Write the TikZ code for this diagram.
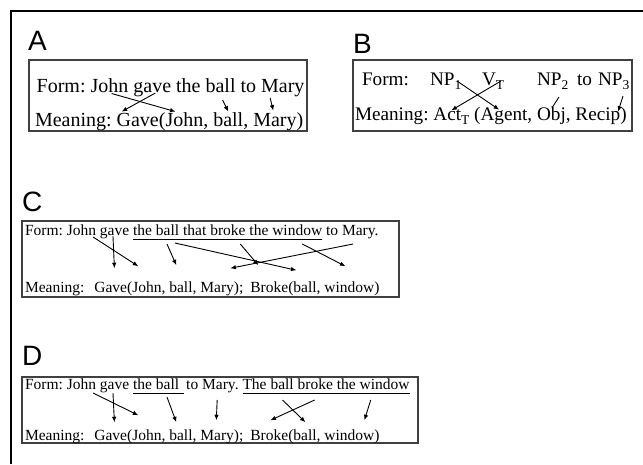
\documentclass[tikz,border=0pt]{standalone}
\usepackage{fontspec}
\setmainfont{Liberation Serif}
\setsansfont{Liberation Sans}
\usepackage{tikz}
\usetikzlibrary{arrows.meta, positioning}

\newcommand{\lowsub}[1]{\raisebox{-4.5pt}{\fontsize{13.5}{14}\selectfont #1}}

\tikzset{
  wd/.style={inner sep=0pt, outer sep=0pt, anchor=base west},
  wdbig/.style={wd, font=\fontsize{20}{24}\selectfont},
  wdmid/.style={wd, font=\fontsize{19.2}{23}\selectfont},
  wdsmall/.style={wd, font=\fontsize{15.5}{18}\selectfont},
  lbl/.style={inner sep=0pt, anchor=base west, font=\sffamily\fontsize{28}{32}\selectfont},
  panel/.style={draw=black!75, line width=1.1pt},
  arr/.style={-{Latex[length=5.5pt,width=4.5pt]}, line width=0.9pt},
  uline/.style={line width=0.8pt}
}

\begin{document}
\begin{tikzpicture}[x=1pt, y=-1pt]
        \useasboundingbox (0,0) rectangle (643,464);
        \draw [line width=2pt] (11,464) -- (11,11) -- (643,11);

        % A
        \node [lbl] (labA) at (28,50) {A};
        \draw [panel] (29,60) rectangle (307,131);
        \node [wdbig] (aF0) at (36.7,92) {Form:};
        \foreach \n/\t [remember=\n as \p (initially aF0)] in {aF1/John, aF2/gave, aF3/the, aF4/ball, aF5/to, aF6/Mary}
          \node [wdbig, base right=5pt of \p] (\n) {\t};
        \node [wdbig] (aM0) at (35,126.5) {Meaning:};
        \foreach \n/\t/\g [remember=\n as \p (initially aM0)] in {aM1/{Gave(}/5pt, aM2/{John,}/0pt, aM3/{ball,}/5pt, aM4/{Mary)}/5pt}
          \node [wdbig, base right=\g of \p] (\n) {\t};
        \draw [arr] ([shift={(21,1.5)}]aF1.base west) -- ([shift={(10,-1)}]aM2.north west);
        \draw [arr] ([shift={(22,1)}]aF2.base west) -- ([shift={(5,-1)}]aM1.north west);
        \draw [arr] ([shift={(17,8)}]aF4.base west) -- ([shift={(15,-1)}]aM3.north west);
        \draw [arr] ([shift={(9,6)}]aF6.base west) -- ([shift={(20,-2)}]aM4.north west);

        % B
        \node [lbl] (labB) at (353,53) {B};
        \draw [panel] (353,60) rectangle (632,131);
        \node [wdmid] (bF0) at (362,85) {Form:};
        \node [wdmid] (bF1) at (430,85) {NP\lowsub{1}};
        \node [wdmid] (bF2) at (482,85) {V\lowsub{T}};
        \node [wdmid] (bF3) at (537,85) {NP\lowsub{2}};
        \node [wdmid] (bF4) at (577,85) {to};
        \node [wdmid] (bF5) at (598,85) {NP\lowsub{3}};
        \node [wdmid] (bM0) at (355,120) {Meaning:};
        \foreach \n/\t [remember=\n as \p (initially bM0)] in {bM1/{Act\lowsub{T}}, bM2/{(Agent,}, bM3/{Obj,}, bM4/{Recip)}}
          \node [wdmid, base right=4.8pt of \p] (\n) {\t};
        \draw [arr] ([shift={(27,-4)}]bF1.base west) -- ([shift={(25,3)}]bM2.north west);
        \draw [arr] ([shift={(19,-4)}]bF2.base west) -- ([shift={(0,3)}]bM1.north);
        \draw [line width=0.9pt] ([shift={(22,12)}]bF3.base west) -- ([shift={(15,1)}]bM3.north west);
        \draw [arr] ([shift={(25,11)}]bF5.base west) -- ([shift={(17,5)}]bM4.north);

        % C
        \node [lbl] (labC) at (22,211) {C};
        \draw [panel] (22,221) rectangle (399,297);
        \node [wdsmall] (cF0) at (25,235) {Form:};
        \foreach \n/\t [remember=\n as \p (initially cF0)] in {cF1/John, cF2/gave, cF3/the, cF4/ball, cF5/that, cF6/broke, cF7/the, cF8/window, cF9/to, cF10/Mary.}
          \node [wdsmall, base right=3.9pt of \p] (\n) {\t};
        \node [wdsmall] (cM0) at (25,292) {Meaning:};
        \foreach \n/\t/\g [remember=\n as \p (initially cM0)] in {cM1/{Gave(}/10pt, cM2/{John,}/0pt, cM3/{ball,}/3.9pt, cM4/{Mary);}/3.9pt, cM5/{Broke(}/7pt, cM6/{ball,}/0pt, cM7/{window)}/3.9pt}
          \node [wdsmall, base right=\g of \p] (\n) {\t};
        \draw [uline] ([shift={(0,4)}]cF3.base west) -- ([shift={(0,4)}]cF8.base east);
        \draw [arr] ([shift={(-3,2)}]cF1.base east) -- ([shift={(6,-15)}]cM2.north west);
        \draw [arr] ([shift={(13,1)}]cF2.base west) -- ([shift={(20,-13)}]cM1.north west);
        \draw [arr] ([shift={(11,9)}]cF4.base west) -- ([shift={(7,-16)}]cM3.north west);
        \draw [arr] ([shift={(19,8)}]cF4.base west) -- ([shift={(3,-11)}]cM6.north west);
        \draw [arr] ([shift={(30,9)}]cF6.base west) -- ([shift={(8,-16)}]cM5.north west);
        \draw [arr] ([shift={(11,9)}]cF10.base west) -- ([shift={(30,-13)}]cM4.north west);
        \draw [arr] ([shift={(30,9)}]cF8.base west) -- ([shift={(21,-15)}]cM7.north west);

        % D
        \node [lbl] (labD) at (22,365) {D};
        \draw [panel] (22,377) rectangle (418,443);
        \node [wdsmall] (dF0) at (25,389) {Form:};
        \foreach \n/\t/\g [remember=\n as \p (initially dF0)] in {dF1/John/3.9pt, dF2/gave/3.9pt, dF3/the/3.9pt, dF4/ball/3.9pt, dF5/to/7pt, dF6/Mary./3.9pt, dF7/The/3.9pt, dF8/ball/3.9pt, dF9/broke/3.9pt, dF10/the/3.9pt, dF11/window/3.9pt}
          \node [wdsmall, base right=\g of \p] (\n) {\t};
        \node [wdsmall] (dM0) at (25,440) {Meaning:};
        \foreach \n/\t/\g [remember=\n as \p (initially dM0)] in {dM1/{Gave(}/10pt, dM2/{John,}/0pt, dM3/{ball,}/3.9pt, dM4/{Mary);}/3.9pt, dM5/{Broke(}/7pt, dM6/{ball,}/0pt, dM7/{window)}/3.9pt}
          \node [wdsmall, base right=\g of \p] (\n) {\t};
        \draw [uline] ([shift={(0,4)}]dF3.base west) -- ([shift={(5,4)}]dF4.base east);
        \draw [uline] ([shift={(0,4)}]dF7.base west) -- ([shift={(0,4)}]dF11.base east);
        \draw [arr] ([shift={(-3,4)}]dF1.base east) -- ([shift={(6,-14)}]dM2.north west);
        \draw [arr] ([shift={(13,4)}]dF2.base west) -- ([shift={(20,-7)}]dM1.north west);
        \draw [arr] ([shift={(11,8)}]dF4.base west) -- ([shift={(7,-7)}]dM3.north west);
        \draw [arr] ([shift={(15,11)}]dF6.base west) -- ([shift={(16,-9)}]dM4.north west);
        \draw [arr] ([shift={(17,11)}]dF9.base west) -- ([shift={(20,-9)}]dM5.north west);
        \draw [arr] ([shift={(12,11)}]dF8.base west) -- ([shift={(12,-7)}]dM6.north west);
        \draw [arr] ([shift={(11,11)}]dF11.base west) -- ([shift={(40,-9)}]dM7.north west);
\end{tikzpicture}
\end{document}
